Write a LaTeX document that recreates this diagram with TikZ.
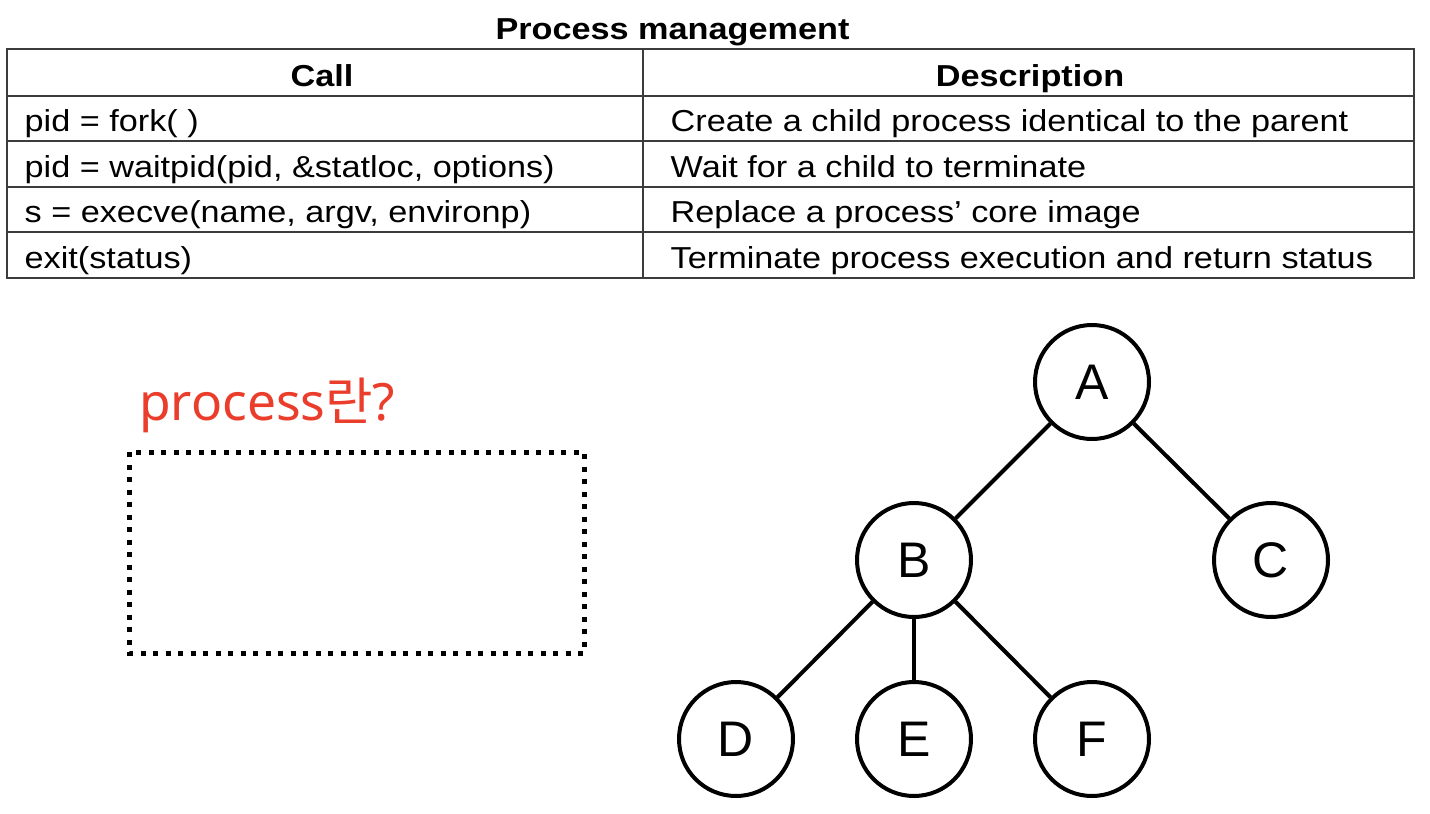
\documentclass[tikz,border=0pt]{standalone}
\usepackage{fontspec}
\setmainfont{Liberation Sans}
\newfontfamily\tabfont[FakeStretch=1.13]{Liberation Sans}
\newfontfamily\kofont{Noto Sans CJK KR}
\newfontfamily\qfont{Noto Sans}
\definecolor{qred}{RGB}{234,61,43}
\definecolor{tabgray}{RGB}{60,60,60}
\begin{document}
\begin{tikzpicture}[x=1pt,y=-1pt,
  tabline/.style={draw=tabgray, line width=2pt},
  celltxt/.style={anchor=base west, inner sep=0pt, font=\tabfont\fontsize{30.3}{36}\selectfont},
  headtxt/.style={anchor=base, inner sep=0pt, font=\tabfont\bfseries\fontsize{30.3}{36}\selectfont},
  dotbox/.style={draw=black, line width=5pt, dash pattern=on 5pt off 7.5pt},
  tnode/.style={circle, draw=black, line width=4pt, minimum size=114pt, inner sep=0pt,
                font=\fontsize{50}{60}\selectfont},
  tedge/.style={draw=black, line width=4pt}]
\useasboundingbox[fill=white] (0,0) rectangle (1430,814);

% title
\node[headtxt] (title) at (672.5,39) {Process management};

% table grid
\coordinate (tl) at (7,49);
\coordinate (br) at (1414,278);
\draw[tabline] (tl) rectangle (br);
\foreach \yy in {96,141,187,232} {\draw[tabline] (7,\yy) -- (1414,\yy);}
\draw[tabline] (643,49) -- (643,278);

% header
\node[headtxt] (hcall) at (322,86) {Call};
\node[headtxt] (hdesc) at (1030,86) {Description};

% rows
\node[celltxt] (c1) at (24.5,131) {pid = fork( )};
\node[celltxt] (c2) at (24.5,177) {pid = waitpid(pid, \&statloc, options)};
\node[celltxt] (c3) at (24.5,222) {s = execve(name, argv, environp)};
\node[celltxt] (c4) at (24.5,268) {exit(status)};
\node[celltxt] (d1) at (670.5,131) {Create a child process identical to the parent};
\node[celltxt] (d2) at (670.5,177) {Wait for a child to terminate};
\node[celltxt] (d3) at (670.5,222) {Replace a process’ core image};
\node[celltxt] (d4) at (670.5,268) {Terminate process execution and return status};

% question
\node[anchor=base west, inner sep=0pt, text=qred, font=\qfont\fontsize{51.5}{60}\selectfont] (q) at (139,420) {process{\kofont 란}?};
\draw[dotbox] (129,452) rectangle (584,653);

% tree
\node[tnode] (A) at (1092,382) {A};
\node[tnode] (B) at (914,560) {B};
\node[tnode] (C) at (1271,560) {C};
\node[tnode] (D) at (736,739) {D};
\node[tnode] (E) at (914,739) {E};
\node[tnode] (F) at (1092,739) {F};
\draw[tedge] (A) -- (B);
\draw[tedge] (A) -- (C);
\draw[tedge] (B) -- (D);
\draw[tedge] (B) -- (E);
\draw[tedge] (B) -- (F);
\end{tikzpicture}
\end{document}
